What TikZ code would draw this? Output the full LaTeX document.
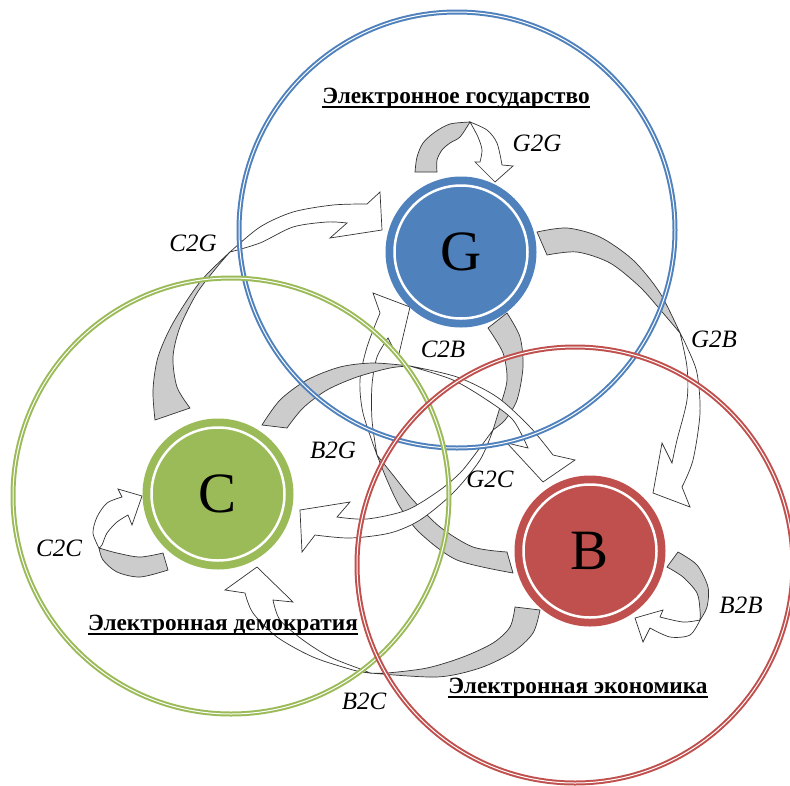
\documentclass[tikz,border=0pt]{standalone}
\usepackage{fontspec}
\setmainfont{Liberation Serif}
\usepackage{tikz}
\definecolor{govblue}{RGB}{79,129,189}
\definecolor{demgreen}{RGB}{155,187,89}
\definecolor{ecored}{RGB}{192,80,77}
\definecolor{ribbon}{RGB}{204,204,204}

\begin{document}
\begin{tikzpicture}[x=1pt, y=-1pt,
    zone/.style={circle, draw=#1, double=white, double distance=1pt, line width=2pt,
                 minimum size=436pt, inner sep=0pt},
    hub/.style={circle, fill=#1, draw=#1, line width=18pt, minimum size=133pt, inner sep=0pt,
                postaction={draw=white, fill=none, line width=2.5pt},
                font=\fontsize{57}{60}\selectfont},
    back/.style={fill=ribbon, draw=black!80, line width=0.7pt},
    front/.style={fill=white, draw=black!80, line width=0.7pt},
    title/.style={font=\fontsize{23.3}{26}\selectfont\bfseries, inner sep=0pt, anchor=base},
    flow/.style={font=\fontsize{25}{27}\selectfont\itshape, inner sep=0pt}]
  \useasboundingbox (0,0) rectangle (790,785);

  % G2G
  \draw[back] plot[smooth] coordinates {(415,172) (417,157) (423,143) (435,132) (450,124) (470,122)}
    -- plot[smooth] coordinates {(470,122) (460,137) (450,143) (442,150) (437,160) (437,172)} -- cycle;
  \draw[front] plot[smooth] coordinates {(470,122) (487,130) (497,143) (502,165)}
    -- (513,166) -- (495,182) -- (475,162)
    -- plot[smooth] coordinates {(480,162) (482,150) (478,137) (470,122)} -- cycle;
  % C2C
  \draw[back] plot[smooth] coordinates {(163,553) (140,557) (117,553) (99,548)}
    -- plot[smooth] coordinates {(99,548) (103,560) (117,572) (140,577) (168,570)} -- cycle;
  \draw[front] plot[smooth] coordinates {(99,548) (93,533) (97,517) (107,503) (122,497)}
    -- (118,489) -- (142,496) -- (132,525)
    -- plot[smooth] coordinates {(128,515) (117,522) (107,533) (102,545) (99,548)} -- cycle;
  % B2B
  \draw[back] plot[smooth] coordinates {(678,552) (697,565) (708,587) (707,607) (700,620)}
    -- plot[smooth] coordinates {(700,620) (700,610) (697,593) (683,577) (667,567)} -- cycle;
  \draw[front] plot[smooth] coordinates {(700,620) (683,622) (660,617)}
    -- (663,610) -- (635,618) -- (643,642)
    -- plot[smooth] coordinates {(650,628) (670,637) (690,635) (700,620)} -- cycle;
  % G2B
  \draw[back] plot[smooth] coordinates {(537,232) (567,228) (600,237) (633,260) (660,293) (680,333)}
    -- plot[smooth] coordinates {(680,333) (663,313) (640,287) (610,263) (577,252) (547,255)} -- cycle;
  \draw[front] plot[smooth] coordinates {(680,333) (687,367) (687,400) (677,440) (672,463)}
    -- (662,443) -- (653,493) -- (690,507)
    -- plot[smooth] coordinates {(682,487) (693,460) (700,413) (697,373) (687,347) (680,333)} -- cycle;
  % C2G
  \draw[back] plot[smooth] coordinates {(155,420) (153,390) (158,357) (173,323) (200,282) (230,252)}
    -- plot[smooth] coordinates {(230,252) (217,267) (197,293) (180,327) (173,357) (177,387) (190,408)} -- cycle;
  \draw[front] plot[smooth] coordinates {(230,252) (260,227) (293,212) (333,205) (367,204)}
    -- (380,192) -- (382,230) -- (330,238)
    -- plot[smooth] coordinates {(347,223) (327,222) (293,227) (260,243) (230,252)} -- cycle;
  % B2C
  \draw[back] plot[smooth] coordinates {(540,610) (533,633) (513,652) (480,668) (437,677) (370,673)}
    -- plot[smooth] coordinates {(370,673) (387,673) (427,668) (463,657) (493,643) (510,627) (515,607)} -- cycle;
  \draw[front] plot[smooth] coordinates {(370,673) (353,670) (313,657) (277,637) (253,613) (245,593)}
    -- (225,590) -- (257,567) -- (293,602)
    -- plot[smooth] coordinates {(273,600) (280,620) (303,640) (330,657) (363,670) (370,673)} -- cycle;
  % B2G
  \draw[back] plot[smooth] coordinates {(507,552) (473,547) (440,527) (413,500) (393,475) (377,455)}
    -- plot[smooth] coordinates {(377,455) (387,480) (400,507) (420,533) (457,560) (513,573)} -- cycle;
  \draw[front] plot[smooth] coordinates {(377,455) (363,413) (360,380) (367,347) (380,313)}
    -- (373,293) -- (410,307) -- (398,358)
    -- plot[smooth] coordinates {(388,338) (377,357) (372,385) (372,420) (377,455)} -- cycle;
  % G2C
  \draw[back] plot[smooth] coordinates {(507,313) (520,337) (523,367) (517,400) (505,420) (493,430)}
    -- plot[smooth] coordinates {(493,430) (500,407) (507,380) (503,353) (488,328)} -- cycle;
  \draw[front] plot[smooth] coordinates {(493,430) (473,457) (460,473) (440,490) (407,510) (367,519) (337,517)}
    -- (350,502) -- (300,510) -- (302,552)
    -- plot[smooth] coordinates {(315,535) (350,538) (390,533) (420,520) (453,493) (480,460) (493,430)} -- cycle;
  % C2B
  \draw[back] plot[smooth] coordinates {(262,425) (280,400) (307,380) (340,367) (373,363) (410,366)}
    -- plot[smooth] coordinates {(410,366) (390,368) (357,377) (327,390) (303,408) (287,428)} -- cycle;
  \draw[front] plot[smooth] coordinates {(410,366) (457,377) (497,397) (530,427) (553,455)}
    -- (575,460) -- (543,482) -- (507,443)
    -- plot[smooth] coordinates {(528,448) (513,420) (487,400) (453,380) (413,367)} -- cycle;

  \node[zone=govblue] (gov) at (457,230) {};
  \node[zone=demgreen] (dem) at (231,496) {};
  \node[zone=ecored] (eco) at (575,565) {};

  \node[hub=govblue] (G) at (461,252) {G};
  \node[hub=demgreen] (C) at (218,494) {C};
  \node[hub=ecored] (B) at (590,551) {B};

  \node[title] (govt) at (456,103) {Электронное государство};
  \node[title] (demt) at (223,630) {Электронная демократия};
  \node[title] (ecot) at (578,693) {Электронная экономика};
  \foreach \t in {govt,demt,ecot}
    \draw[line width=1.8pt] ([yshift=-4pt]\t.base west) -- ([yshift=-4pt]\t.base east);

  \node[flow] (g2g) at (537,143) {G2G};
  \node[flow] (c2g) at (193,243) {C2G};
  \node[flow] (g2b) at (714,339) {G2B};
  \node[flow] (c2b) at (443,349) {C2B};
  \node[flow] (b2g) at (333,450) {B2G};
  \node[flow] (g2c) at (490,479) {G2C};
  \node[flow] (c2c) at (59,548) {C2C};
  \node[flow] (b2b) at (741,605) {B2B};
  \node[flow] (b2c) at (364,701) {B2C};
\end{tikzpicture}
\end{document}
